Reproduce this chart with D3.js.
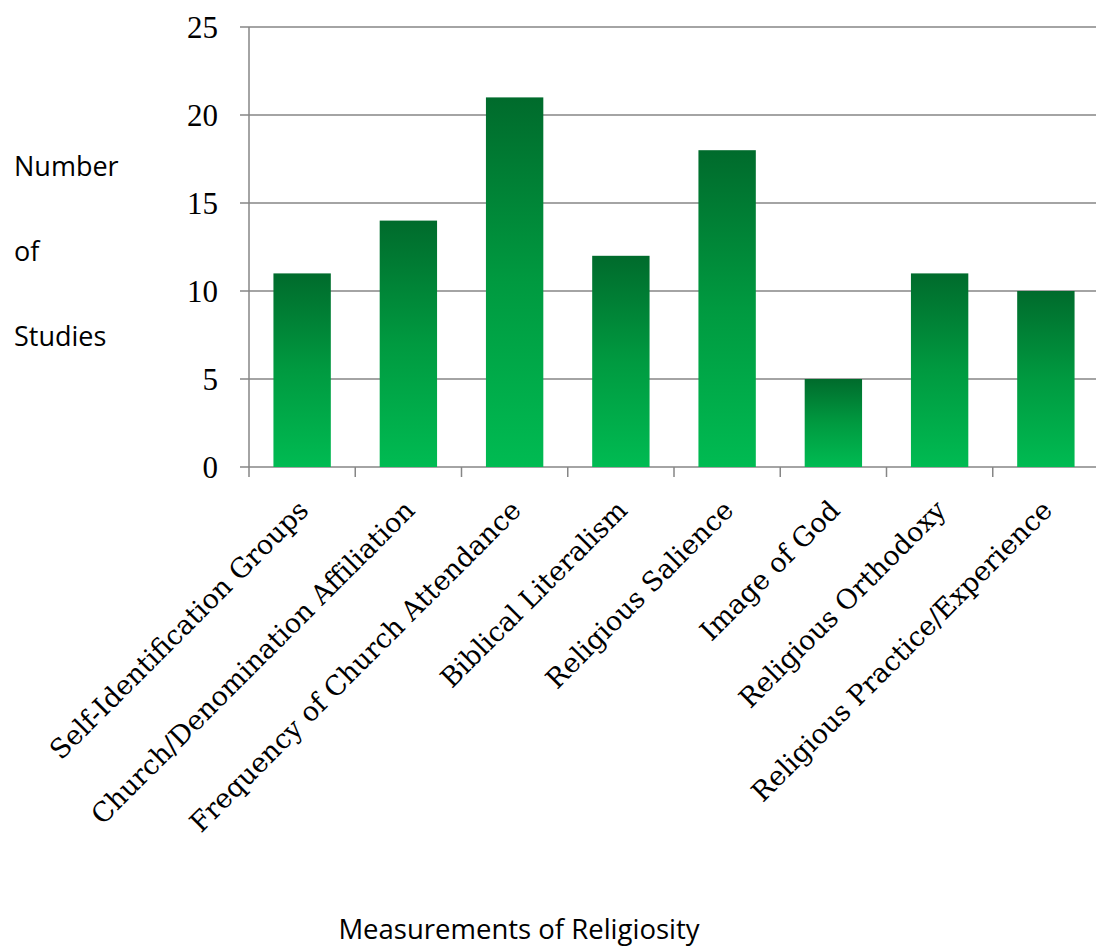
<!DOCTYPE html>
<html>
<head>
<meta charset="utf-8">
<script src="https://cdn.jsdelivr.net/npm/d3@7"></script>
<style>
  html, body { margin: 0; padding: 0; background: #fff; }
  svg { display: block; }
</style>
</head>
<body>
<svg id="chart" width="1096" height="949"></svg>
<script>
// Measurements of religiosity used across studies
const categories = [
  "Self-Identification Groups",
  "Church/Denomination Affiliation",
  "Frequency of Church Attendance",
  "Biblical Literalism",
  "Religious Salience",
  "Image of God",
  "Religious Orthodoxy",
  "Religious Practice/Experience"
];
const studyCounts = [11, 14, 21, 12, 18, 5, 11, 10];
const yTicks = [0, 5, 10, 15, 20, 25];
const yLabelLines = ["Number", "of", "Studies"];
const xTitle = "Measurements of Religiosity";

(function draw() {
  const svg = d3.select("#chart");
  const plotLeft = 249, plotRight = 1099, plotTop = 27, plotBottom = 467;

  const x = d3.scaleBand().domain(categories).range([plotLeft, plotRight])
    .paddingInner(0.46).paddingOuter(0.23);
  const y = d3.scaleLinear().domain([0, 25]).range([plotBottom, plotTop]);

  const defs = svg.append("defs");
  const grad = defs.append("linearGradient").attr("id", "barFill")
    .attr("x1", 0).attr("y1", 0).attr("x2", 0).attr("y2", 1);
  grad.append("stop").attr("offset", "0%").attr("stop-color", "#006b2c");
  grad.append("stop").attr("offset", "50%").attr("stop-color", "#009a40");
  grad.append("stop").attr("offset", "100%").attr("stop-color", "#00bb52");

  const gridColor = "#868686";

  // horizontal gridlines with short outer ticks
  svg.append("g").selectAll("line").data(yTicks).join("line")
    .attr("x1", plotLeft - 9).attr("x2", plotRight)
    .attr("y1", d => y(d)).attr("y2", d => y(d))
    .attr("stroke", gridColor).attr("stroke-width", 1.5);

  // bars
  svg.append("g").selectAll("rect").data(studyCounts).join("rect")
    .attr("x", (d, i) => x(categories[i]))
    .attr("width", x.bandwidth())
    .attr("y", d => y(d))
    .attr("height", d => y(0) - y(d))
    .attr("fill", "url(#barFill)");

  // value axis line
  svg.append("line")
    .attr("x1", plotLeft).attr("x2", plotLeft)
    .attr("y1", y(25)).attr("y2", y(0))
    .attr("stroke", gridColor).attr("stroke-width", 1.5);

  // category axis ticks at band boundaries
  const boundaries = categories.map(c => x(c) - x.step() * x.paddingInner() / 2).concat([plotRight]);
  svg.append("g").selectAll("line").data(boundaries).join("line")
    .attr("x1", d => d).attr("x2", d => d)
    .attr("y1", y(0)).attr("y2", y(0) + 10)
    .attr("stroke", gridColor).attr("stroke-width", 1.5);

  // y tick labels
  svg.append("g").selectAll("text").data(yTicks).join("text")
    .attr("x", plotLeft - 31).attr("y", d => y(d))
    .attr("dy", "0.35em")
    .attr("text-anchor", "end")
    .attr("font-family", "'Liberation Serif', serif")
    .attr("font-size", 31)
    .attr("fill", "#000")
    .text(d => d);

  // rotated category labels
  svg.append("g").selectAll("text").data(categories).join("text")
    .attr("transform", d => `translate(${x(d) + x.bandwidth() / 2 + 8},${plotBottom + 45}) rotate(-45)`)
    .attr("text-anchor", "end")
    .attr("font-family", "'DejaVu Serif', serif")
    .attr("font-size", 27)
    .attr("fill", "#000")
    .text(d => d);

  // y axis title, stacked words
  svg.append("g").selectAll("text").data(yLabelLines).join("text")
    .attr("x", 14).attr("y", (d, i) => 176 + i * 85)
    .attr("font-family", "'Open Sans', sans-serif")
    .attr("font-size", 27)
    .attr("fill", "#000")
    .text(d => d);

  // x axis title
  svg.append("text")
    .attr("x", 519).attr("y", 939)
    .attr("text-anchor", "middle")
    .attr("font-family", "'Open Sans', sans-serif")
    .attr("font-size", 27.5)
    .attr("fill", "#000")
    .text(xTitle);
})();
</script>
</body>
</html>
